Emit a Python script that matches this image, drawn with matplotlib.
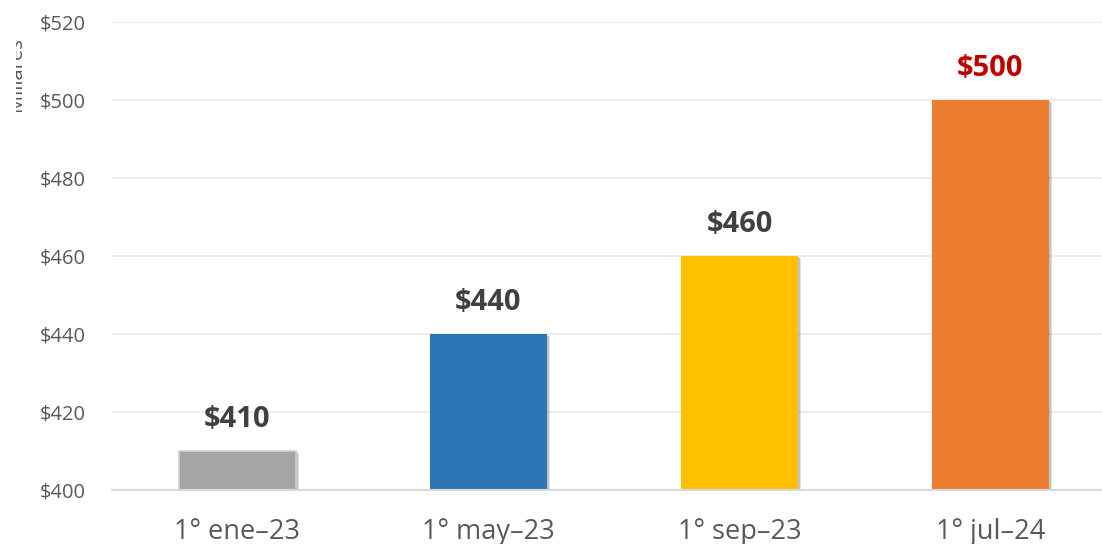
import matplotlib
matplotlib.use("Agg")
import matplotlib.pyplot as plt
import matplotlib.patheffects as pe
from matplotlib.transforms import Bbox
import numpy as np

categories = ["1° ene–23", "1° may–23", "1° sep–23", "1° jul–24"]
values = [410, 440, 460, 500]
bar_colors = ["#A5A5A5", "#2E75B6", "#FFC000", "#ED7D31"]
label_colors = ["#404040", "#404040", "#404040", "#C00000"]
yticks = [400, 420, 440, 460, 480, 500, 520]
ytick_labels = ["$400", "$420", "$440", "$460", "$480", "$500", "$520"]
ylabel = "Millares"

W, H = 1102, 544
fig = plt.figure(figsize=(W / 100, H / 100), dpi=100)
plt.rcParams['font.family'] = ['Open Sans', 'DejaVu Sans']

ax_left, ax_right = 112, 1116
ax_top, ax_bottom = 22, 490
ax = fig.add_axes([ax_left / W, (H - ax_bottom) / H,
                   (ax_right - ax_left) / W, (ax_bottom - ax_top) / H])

x = np.arange(len(categories))
bars = ax.bar(x, values, width=0.465, color=bar_colors, zorder=3,
              edgecolor=["#D0D0D0", "none", "none", "none"], linewidth=1.2)
for b in bars:
    b.set_path_effects([pe.SimplePatchShadow(offset=(2.5, -1.5), shadow_rgbFace="#000000", alpha=0.12),
                        pe.SimplePatchShadow(offset=(1.5, -1), shadow_rgbFace="#000000", alpha=0.12),
                        pe.Normal()])

ax.set_ylim(400, 520)
ax.set_xlim(-0.5, 3.5)
ax.set_yticks(yticks)
ax.set_yticklabels(ytick_labels, fontsize=14.5, color="#595959")
ax.set_xticks(x)
ax.set_xticklabels(categories, fontsize=19.5, color="#595959")
ax.tick_params(axis='both', length=0)
ax.tick_params(axis='y', pad=19)
ax.tick_params(axis='x', pad=20)

ax.grid(axis='y', color="#EDEDED", linewidth=1.5, zorder=0)
ax.set_axisbelow(True)
for s in ["top", "right", "left"]:
    ax.spines[s].set_visible(False)
ax.spines["bottom"].set_color("#D9D9D9")
ax.spines["bottom"].set_linewidth(1.5)
ax.spines["bottom"].set_zorder(4)

for xi, v, c in zip(x, values, label_colors):
    ax.annotate(f"${v}", (xi, v), xytext=(0, 12), textcoords="offset points",
                ha="center", va="bottom", fontsize=21, fontweight="bold", color=c)

t = fig.text(21 / W, (H - 74) / H, ylabel, rotation=90, ha="center", va="baseline",
             rotation_mode="anchor", fontsize=14.5, color="#595959")
t.set_clip_box(Bbox.from_extents(16, 0, W, H))
t.set_clip_on(True)

fig.savefig("out.png", dpi=100)
